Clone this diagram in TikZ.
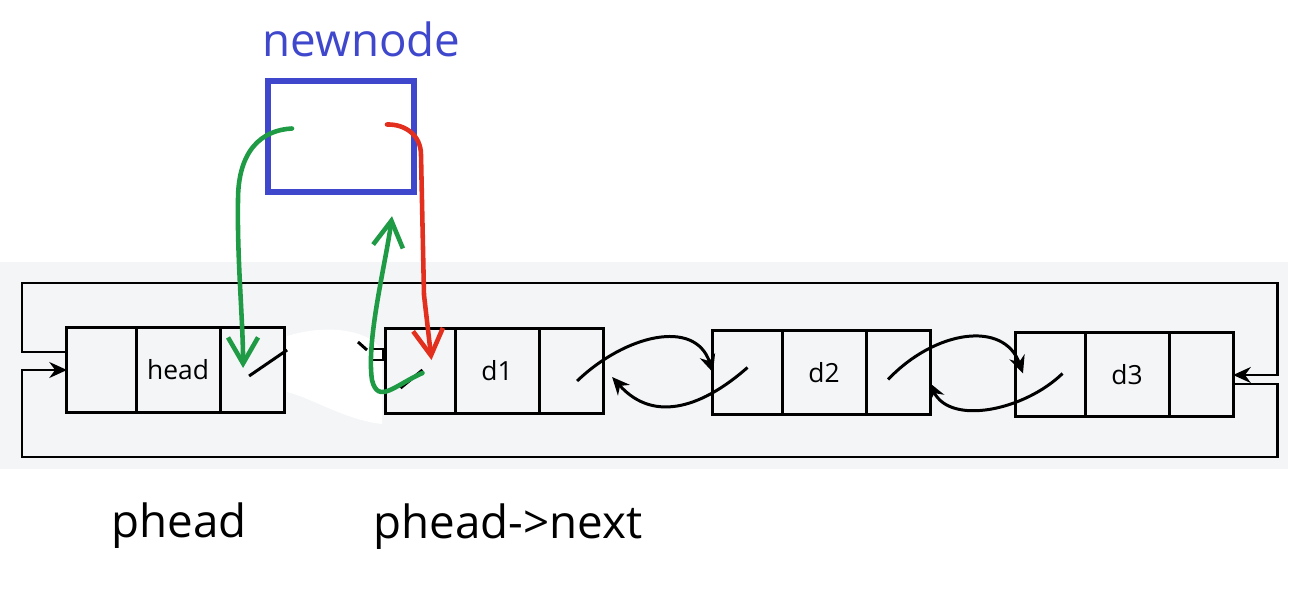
\documentclass[tikz,border=0pt]{standalone}
\usepackage{fontspec}
\setmainfont{Open Sans}
\usetikzlibrary{arrows.meta,positioning}
\definecolor{panelgrey}{HTML}{F3F5F7}
\definecolor{nodeblue}{HTML}{3F48CC}
\definecolor{penred}{HTML}{E3301E}
\definecolor{pengreen}{HTML}{1F9A45}
\tikzset{
  >={Stealth[length=5pt,width=4.5pt]},
  link/.style={line width=0.85pt},
  cell/.style={draw,line width=0.85pt,inner sep=0pt,outer sep=0pt,minimum height=0.84cm,font=\fontsize{7.5}{9}\selectfont},
  lcell/.style={cell,minimum width=0.69cm},
  dcell/.style={cell,minimum width=0.84cm},
  rcell/.style={cell,minimum width=0.64cm},
  handarrow/.style={line width=1.3pt,line cap=round,line join=round,-{Straight Barb[length=0.26cm,width=0.3cm]}},
  bigtext/.style={font=\fontsize{13}{15}\selectfont,anchor=base west,inner sep=0pt},
}
\begin{document}
\begin{tikzpicture}[x=0.01cm,y=-0.01cm]
\useasboundingbox (0,0) rectangle (1303,591);
% --- background ---
\fill[panelgrey] (0,262) rectangle (1288,469);
\fill[white] (287,336) .. controls (320,326) and (352,328) .. (372,340) -- (382,350) -- (382,424) .. controls (345,420) and (312,398) .. (287,392) -- cycle;
% --- list nodes ---
\node[lcell] (head-l) at (101.5,370) {};
\node[dcell,right=0pt of head-l] (head-d) {head};
\node[rcell,right=0pt of head-d] (head-r) {};
\node[lcell] (d1-l) at (420.5,371) {};
\node[dcell,right=0pt of d1-l] (d1-d) {d1};
\node[rcell,right=0pt of d1-d] (d1-r) {};
\node[lcell] (d2-l) at (747.5,372.5) {};
\node[dcell,right=0pt of d2-l] (d2-d) {d2};
\node[rcell,right=0pt of d2-d] (d2-r) {};
\node[lcell] (d3-l) at (1050.5,374.5) {};
\node[dcell,right=0pt of d3-l] (d3-d) {d3};
\node[rcell,right=0pt of d3-d] (d3-r) {};
% --- outer loop ---
\draw[link,->] (head-l.west |- 0,352) -- (22,352) -- (22,283) -- (1277,283) -- (1277,375) -- (d3-r.east |- 0,375);
\draw[link,->] (d3-r.east |- 0,384) -- (1277,384) -- (1277,457) -- (22,457) -- (22,370) -- (head-l.west);
% --- next / prev links ---
\draw[link,->] ([shift={(6,10)}]d1-r.center) .. controls (625,335) and (695,318) .. (d2-l.west);
\draw[link,->] ([shift={(0,-5)}]d2-l.center) .. controls (705,405) and (655,425) .. ([shift={(9,6)}]d1-r.east);
\draw[link,->] ([shift={(-10,7)}]d2-r.center) .. controls (935,330) and (1004,320) .. ([shift={(7,-1)}]d3-l.west);
\draw[link,->] ([shift={(12,-1)}]d3-l.center) .. controls (1025,410) and (951,426) .. ([shift={(-1,10)}]d2-r.east);
% --- cut link after head ---
\draw[link] ([shift={(-3,6)}]head-r.center) -- ([shift={(3,-20)}]head-r.east);
\draw[link] ([shift={(-28,-29)}]d1-l.west) -- ([shift={(-19,-21)}]d1-l.west);
\draw[link] ([shift={(-20,17)}]d1-l.center) -- ([shift={(2,-1)}]d1-l.center);
\draw[line width=0.6pt,fill=white] (372,349) rectangle (383,360);
% --- new node ---
\node[draw=nodeblue,line width=1.8pt,minimum width=1.46cm,minimum height=1.11cm,inner sep=0pt] (newnode) at (341,136.5) {};
\node[bigtext,text=nodeblue] (newnode-lbl) at (262,57) {newnode};
% --- hand drawn pointers ---
\draw[handarrow,pengreen] ([shift={(-49,-8)}]newnode.center) .. controls (262,130) and (238,150) .. (238,200) .. controls (237,260) and (243,320) .. ([shift={(-9,-2)}]head-r.center);
\draw[handarrow,penred] ([shift={(46,-12)}]newnode.center) .. controls (405,124) and (421,135) .. (421,155) -- (424,295) -- ([shift={(11,-11)}]d1-l.center);
\draw[handarrow,pengreen] ([shift={(2,2)}]d1-l.center) .. controls (395,385) and (378,405) .. (372,380) .. controls (366,340) and (386,262) .. ([shift={(51,21)}]newnode.south);
% --- captions ---
\node[bigtext] (phead) at (111,537) {phead};
\node[bigtext] (phead-next) at (373,538) {phead->next};
\end{tikzpicture}
\end{document}
